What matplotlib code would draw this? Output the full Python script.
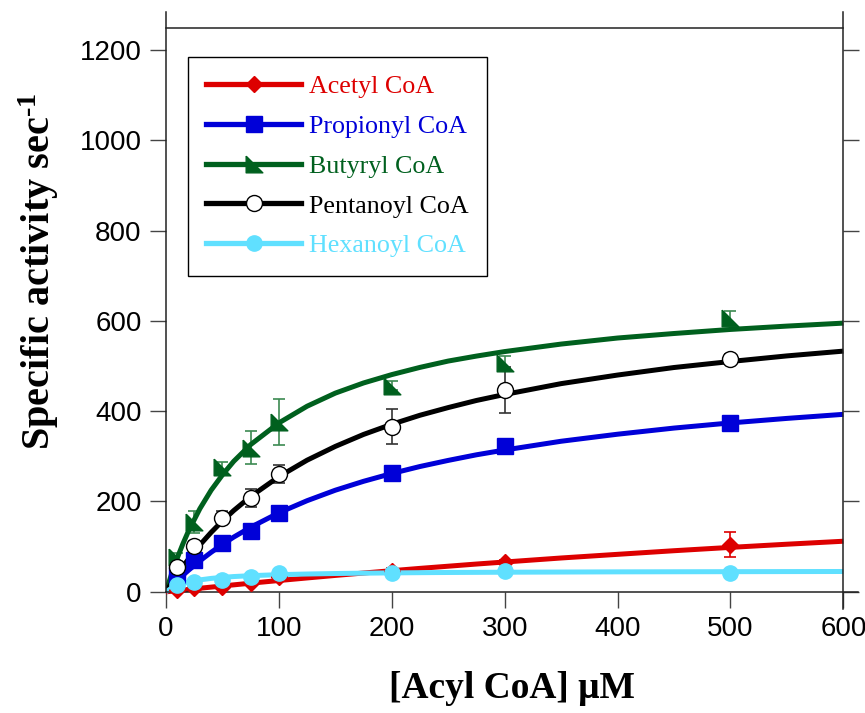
import numpy as np
import matplotlib
matplotlib.use("Agg")
import matplotlib.pyplot as plt
from matplotlib.lines import Line2D

plt.rcParams['mathtext.fontset'] = 'custom'
plt.rcParams['mathtext.rm'] = 'Liberation Serif:bold'
plt.rcParams['mathtext.bf'] = 'Liberation Serif:bold'
plt.rcParams['mathtext.default'] = 'rm'

# measured substrate concentrations (uM)
conc = [10, 25, 50, 75, 100, 200, 300, 500]

# specific activity (sec^-1), mean and error
acetyl = [4, 9, 10, 20, 32, 47, 66, 104]
acetyl_err = [3, 3, 3, 4, 5, 5, 5, 28]
propionyl = [38, 71, 108, 135, 175, 263, 323, 374]
propionyl_err = [5, 8, 10, 15, 12, 10, 10, 14]
butyryl = [77, 155, 277, 319, 376, 456, 507, 607]
butyryl_err = [10, 25, 10, 37, 52, 10, 15, 15]
pentanoyl = [55, 102, 164, 208, 260, 366, 447, 516]
pentanoyl_err = [5, 10, 14, 20, 20, 38, 50, 10]
hexanoyl = [14, 22, 26, 33, 41, 42, 46, 42]
hexanoyl_err = [2, 2, 2, 2, 3, 3, 3, 3]

# fitted curves
fit_x = [0, 5, 10, 15, 20, 30, 40, 50, 60, 75, 100, 125, 150, 175, 200,
         225, 250, 275, 300, 350, 400, 450, 500, 550, 600]
acetyl_fit = [0, 1.3, 2.7, 4.0, 5.3, 7.9, 10.4, 12.9, 15.4, 19.1, 25, 30.7, 36.3,
              41.6, 46.8, 51.9, 56.7, 61.5, 66, 74.9, 83, 91, 98.4, 105.4, 112]
propionyl_fit = [0, 12.8, 25, 36.7, 47.8, 68.5, 87.5, 105, 121.2, 143, 175, 201.8,
                 225, 244.7, 262, 277.5, 291, 303.4, 314, 333.4, 349, 362.6, 374, 384, 393]
butyryl_fit = [0, 40, 75, 106.4, 135, 184, 225, 259, 289, 326, 374, 411, 440,
               462.5, 481, 497, 511, 522, 532, 548.6, 562, 572, 581, 588.4, 595]
pentanoyl_fit = [0, 20, 38.5, 56.1, 72.8, 103.7, 131.6, 156.9, 180, 211, 255, 291.5,
                 322, 348.5, 371, 391, 408, 423.7, 437, 461, 480, 496.7, 510, 522.4, 533]
hexanoyl_fit = [0, 8.3, 14.2, 18.4, 21.7, 26.4, 29.7, 32, 33.8, 35.7, 38, 39.4, 40.5,
                41.3, 41.9, 42.4, 42.8, 43.1, 43.4, 43.8, 44.2, 44.4, 44.6, 44.8, 45]

names = ['Acetyl CoA', 'Propionyl CoA', 'Butyryl CoA', 'Pentanoyl CoA', 'Hexanoyl CoA']
colors = ['#dd0000', '#0000d8', '#00601e', 'black', '#60e0ff']
err_colors = ['#dd0000', '#0000d8', '#3c8a52', '#333333', '#60e0ff']
flag = [(-1, 1), (-1, -1), (1, -1), (-1, 1)]
markers = ['D', 's', flag, 'o', 'o']
msizes = [8, 11, 12, 11.5, 11]
faces = ['#dd0000', '#0000d8', '#00601e', 'white', '#60e0ff']

means = [acetyl, propionyl, butyryl, pentanoyl, hexanoyl]
errs = [acetyl_err, propionyl_err, butyryl_err, pentanoyl_err, hexanoyl_err]
fits = [acetyl_fit, propionyl_fit, butyryl_fit, pentanoyl_fit, hexanoyl_fit]

fig = plt.figure(figsize=(8.65, 7.13), dpi=100)
ax = fig.add_axes([0.1919, 0.1459, 0.8, 0.8373])

for i in [0, 1, 2, 3, 4]:
    ax.errorbar(conc, means[i], yerr=errs[i], fmt='none', ecolor=err_colors[i],
                elinewidth=1.2, capsize=4.5, capthick=1.2, zorder=2)
    ax.plot(conc, means[i], linestyle='none', marker=markers[i], ms=msizes[i],
            mfc=faces[i], mec=colors[i] if i != 3 else 'black', mew=1.0, zorder=3)
    ax.plot(fit_x, fits[i], color=colors[i], lw=3.6, zorder=2.5,
            solid_capstyle='butt', solid_joinstyle='round')

ax.set_xlim(0, 613)
ax.set_ylim(-38, 1284)

# frame: crossing axis lines like the original
ax.spines['bottom'].set_position(('data', 0))
ax.spines['left'].set_bounds(0, 1284)
ax.spines['right'].set_position(('data', 600))
ax.spines['top'].set_position(('data', 1249))
ax.spines['top'].set_bounds(0, 600)
for s in ax.spines.values():
    s.set_linewidth(1.1)
    s.set_color('#222222')

ax.set_xticks([0, 100, 200, 300, 400, 500, 600])
ax.set_yticks([0, 200, 400, 600, 800, 1000, 1200])
ax.yaxis.set_ticks_position('both')
ax.tick_params(axis='both', direction='out', length=11.5, width=1.0,
               color='#444444', labelsize=20, pad=6)
ax.tick_params(axis='y', right=True, labelright=False)
for lab in ax.get_xticklabels() + ax.get_yticklabels():
    lab.set_family('Liberation Sans')

ax.set_xlabel('[Acyl CoA] \u03bcM', fontsize=27, fontweight='bold',
              family='Liberation Serif', labelpad=21)
ax.set_ylabel(r'Specific activity sec$^{\text{-1}}$', fontsize=29, fontweight='bold',
              family='Liberation Serif')
ax.yaxis.set_label_coords(-0.152, 0.566)

handles = [Line2D([0], [0], color=colors[i], lw=3.8, marker=markers[i],
                  ms=msizes[i], mfc=faces[i], mec=colors[i] if i != 3 else 'black')
           for i in range(5)]
leg = ax.legend(handles, names, loc='upper left', bbox_to_anchor=(0.032, 0.925),
                prop={'family': 'Liberation Serif', 'size': 18.7},
                fancybox=False, framealpha=1, edgecolor='black',
                handlelength=3.65, handletextpad=0.3, labelspacing=0.64,
                borderpad=0.7, borderaxespad=0)
leg.get_frame().set_linewidth(1.0)
for t, c in zip(leg.get_texts(), colors):
    t.set_color(c)

fig.savefig('out.png', dpi=100)
